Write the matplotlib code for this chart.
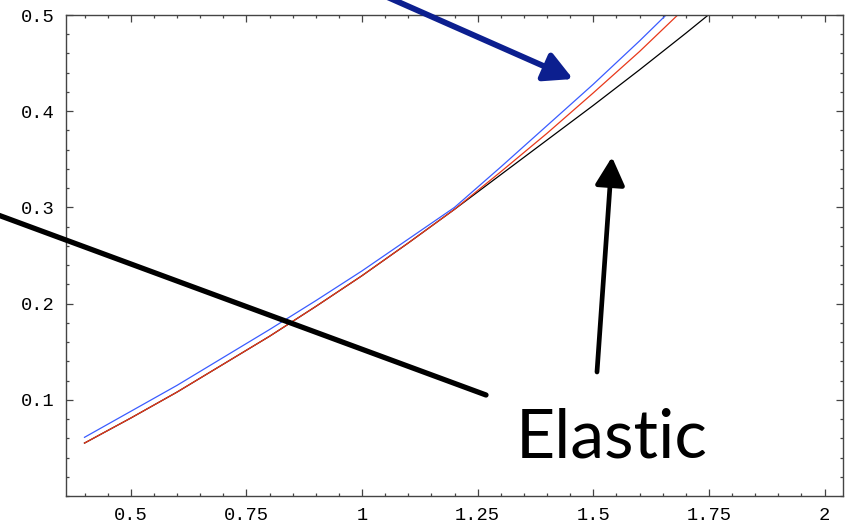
import matplotlib
matplotlib.use("Agg")
import matplotlib.pyplot as plt
from matplotlib.ticker import FixedLocator, FixedFormatter, MultipleLocator

# curve samples
x_low = [0.4, 0.5, 0.6, 0.7, 0.8, 0.9, 1.0, 1.1, 1.2]
blue_low = [0.061, 0.088, 0.115, 0.144, 0.173, 0.203, 0.234, 0.267, 0.300]
red_low = [0.055, 0.081, 0.108, 0.137, 0.166, 0.197, 0.229, 0.263, 0.298]

x_high = [1.2, 1.3, 1.4, 1.5, 1.6, 1.7, 1.8]
blue_high = [0.300, 0.342, 0.385, 0.428, 0.473, 0.520, 0.570]
red_high = [0.298, 0.337, 0.377, 0.419, 0.462, 0.508, 0.556]
black_high = [0.298, 0.334, 0.370, 0.406, 0.443, 0.481, 0.520]

xticks = [0.5, 0.75, 1, 1.25, 1.5, 1.75, 2]
xtick_labels = ["0.5", "0.75", "1", "1.25", "1.5", "1.75", "2"]
yticks = [0.1, 0.2, 0.3, 0.4, 0.5]
ytick_labels = ["0.1", "0.2", "0.3", "0.4", "0.5"]

W, H = 848, 524
fig = plt.figure(figsize=(W / 100, H / 100), dpi=100)
ax = fig.add_axes([66 / W, (H - 496) / H, (843 - 66) / W, (496 - 15) / H])

frame = "#444444"
ax.plot(x_low + x_high[1:], red_low + black_high[1:], color="black", lw=0.9)
ax.plot(x_low + x_high[1:], red_low + red_high[1:], color="#e8381a", lw=0.9)
ax.plot(x_low + x_high[1:], blue_low + blue_high[1:], color="#3a5cff", lw=0.9)

ax.set_xlim(0.36, 2.04)
ax.set_ylim(0, 0.5)
ax.xaxis.set_major_locator(FixedLocator(xticks))
ax.xaxis.set_major_formatter(FixedFormatter(xtick_labels))
ax.xaxis.set_minor_locator(MultipleLocator(0.05))
ax.yaxis.set_major_locator(FixedLocator(yticks))
ax.yaxis.set_major_formatter(FixedFormatter(ytick_labels))
ax.yaxis.set_minor_locator(MultipleLocator(0.02))
ax.tick_params(which="both", direction="in", top=True, right=True, color=frame, width=0.9)
ax.tick_params(which="major", length=5, pad=8, labelsize=13.5)
ax.tick_params(which="minor", length=2.5)
for lab in ax.get_xticklabels() + ax.get_yticklabels():
    lab.set_family("Liberation Mono")
for sp in ax.spines.values():
    sp.set_color(frame)
    sp.set_linewidth(1.0)

# annotations drawn in figure pixels (y measured from the top)
def fp(px, py):
    return (px, H - py)

ax.annotate("", xy=fp(486, 395), xytext=fp(-10, 212), xycoords="figure pixels",
            textcoords="figure pixels", annotation_clip=False,
            arrowprops=dict(arrowstyle="-", lw=3.8, color="black", shrinkA=0, shrinkB=0))
ax.annotate("", xy=fp(573, 79), xytext=fp(360, -15), xycoords="figure pixels",
            textcoords="figure pixels", annotation_clip=False,
            arrowprops=dict(arrowstyle="-|>,head_length=0.85,head_width=0.45", mutation_scale=20,
                            lw=4.2, color="#0c1f8f", shrinkA=0, shrinkB=0))
ax.annotate("", xy=fp(612, 157), xytext=fp(597, 372), xycoords="figure pixels",
            textcoords="figure pixels", annotation_clip=False,
            arrowprops=dict(arrowstyle="-|>,head_length=0.85,head_width=0.45", mutation_scale=20,
                            lw=3.4, color="black", shrinkA=0, shrinkB=0))
fig.text(516 / W, (H - 458) / H, "Elastic", fontsize=49, family="Lato", va="baseline", ha="left")

fig.savefig("out.png", dpi=100)
